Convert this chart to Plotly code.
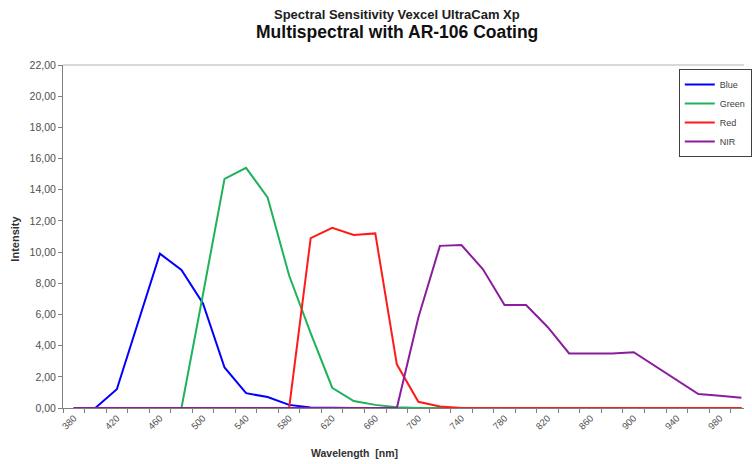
import plotly.graph_objects as go

wavelength = [380, 400, 420, 440, 460, 480, 500, 520, 540, 560, 580, 600, 620, 640, 660, 680,
              700, 720, 740, 760, 780, 800, 820, 840, 860, 880, 900, 920, 940, 960, 980, 1000]
blue = [0, 0, 1.2, 5.5, 9.9, 8.85, 6.7, 2.6, 0.95, 0.7, 0.2, 0.03, 0, 0, 0, 0,
        0, 0, 0, 0, 0, 0, 0, 0, 0, 0, 0, 0, 0, 0, 0, 0]
green = [0, 0, 0, 0, 0, 0, 7.3, 14.7, 15.4, 13.5, 8.5, 4.8, 1.3, 0.45, 0.2, 0.05,
         0, 0, 0, 0, 0, 0, 0, 0, 0, 0, 0, 0, 0, 0, 0, 0]
red = [0, 0, 0, 0, 0, 0, 0, 0, 0, 0, 0, 10.9, 11.55, 11.1, 11.2, 2.8,
       0.4, 0.1, 0, 0, 0, 0, 0, 0, 0, 0, 0, 0, 0, 0, 0, 0]
nir = [0, 0, 0, 0, 0, 0, 0, 0, 0, 0, 0, 0, 0, 0, 0, 0,
       5.8, 10.4, 10.45, 8.9, 6.6, 6.6, 5.2, 3.5, 3.5, 3.5, 3.58, 2.7, 1.8, 0.9, 0.78, 0.65]

series_names = ["Blue", "Green", "Red", "NIR"]
series_colors = ["#0000FF", "#1FB25A", "#FF1A1A", "#8B1C9E"]
x_tick_labels = [380, 420, 460, 500, 540, 580, 620, 660, 700, 740, 780, 820, 860, 900, 940, 980]
y_ticks = [0, 2, 4, 6, 8, 10, 12, 14, 16, 18, 20, 22]

FONT = "Liberation Sans, Arial, sans-serif"
W, H = 752, 464
px_per_cat = 21.8
X_MIN = 370
L = 62.7
pw = W - L
X_MAX = X_MIN + pw / px_per_cat * 20
R = 0
T = 65
B = H - 408.5
ph = H - T - B


def px_x(sx):
    return (sx - L) / pw


def px_y(sy):
    return (H - B - sy) / ph


fig = go.Figure()
for name, vals, col in zip(series_names, [blue, green, red, nir], series_colors):
    fig.add_trace(go.Scatter(x=wavelength, y=vals, name=name, mode="lines",
                             line=dict(color=col, width=2)))

fig.update_layout(
    width=W, height=H, autosize=False,
    margin=dict(l=L, r=R, t=T, b=B, pad=0),
    paper_bgcolor="white", plot_bgcolor="white",
    separators=", ",
    font=dict(family=FONT, color="#404040"),
    showlegend=True,
    legend=dict(x=px_x(686), y=px_y(69), xanchor="left", yanchor="top",
                bgcolor="white", bordercolor="#404040", borderwidth=1,
                font=dict(family=FONT, size=9, color="#404040"),
                tracegroupgap=0, itemwidth=30),
    xaxis=dict(range=[X_MIN, X_MAX], tickmode="array", tickvals=x_tick_labels,
               ticktext=[str(v) for v in x_tick_labels], ticks="", tickangle=-45,
               tickfont=dict(family=FONT, size=9.5, color="#505050"),
               showline=True, linecolor="#808080", linewidth=1,
               showgrid=False, zeroline=False, automargin=False,
               minor=dict(tickmode="linear", tick0=370, dtick=20, ticks="outside",
                          ticklen=4, tickcolor="#808080", showgrid=False)),
    yaxis=dict(range=[0, 22], tickmode="array", tickvals=y_ticks, tickformat=".2f",
               ticks="outside", ticklen=4, tickcolor="#808080",
               tickfont=dict(family=FONT, size=10.5, color="#505050"),
               showline=True, linecolor="#808080", linewidth=1,
               showgrid=False, zeroline=False, automargin=False),
    shapes=[dict(type="line", xref="paper", yref="paper", x0=0, x1=1, y0=1, y1=1,
                 line=dict(color="#D9D9D9", width=2))],
    annotations=[
        dict(text="<b>Spectral Sensitivity Vexcel UltraCam Xp</b>", xref="paper", yref="paper",
             x=px_x(401), y=px_y(14), xanchor="center", yanchor="middle", showarrow=False,
             font=dict(family=FONT, size=13, color="#202020")),
        dict(text="<b>Multispectral with AR-106 Coating</b>", xref="paper", yref="paper",
             x=px_x(401), y=px_y(31.5), xanchor="center", yanchor="middle", showarrow=False,
             font=dict(family=FONT, size=17.5, color="#101010")),
        dict(text="<b>Intensity</b>", xref="paper", yref="paper", textangle=-90,
             x=px_x(14), y=px_y(239), xanchor="center", yanchor="middle", showarrow=False,
             font=dict(family=FONT, size=11, color="#303030")),
        dict(text="<b>Wavelength  [nm]</b>", xref="paper", yref="paper",
             x=px_x(358), y=px_y(454), xanchor="center", yanchor="middle", showarrow=False,
             font=dict(family=FONT, size=10.5, color="#303030")),
    ],
)

fig.write_html(
    "out.html",
    config={"responsive": False, "displayModeBar": False},
    post_script="document.body.style.margin='0';"
                "document.documentElement.style.overflow='hidden';",
)
